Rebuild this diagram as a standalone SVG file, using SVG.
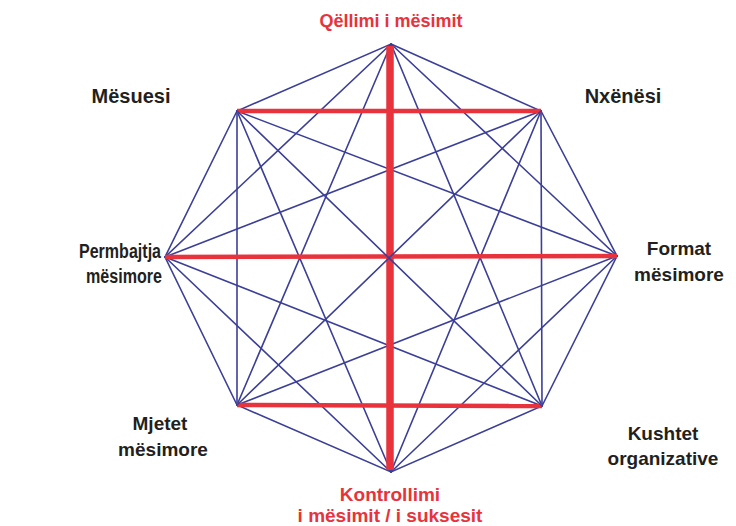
<svg xmlns="http://www.w3.org/2000/svg" width="736" height="526" viewBox="0 0 736 526">
<style>
.b{stroke:#3b3f98;stroke-width:1.6;fill:none;stroke-linecap:round}
.r{stroke:#e8333c;fill:none}
.lbl{font-family:"Liberation Sans",Arial,sans-serif;font-weight:bold;font-size:19px;fill:#231f20;text-anchor:middle}
.red{fill:#e8333c}
</style>
<rect width="736" height="526" fill="#fff"/>
<g id="connectors">
<g class="b">
<polygon points="391,44 541,111 617,256 542,406 391,472 237,405 165,257 237,111"/>
<line x1="391" y1="44" x2="617" y2="256"/>
<line x1="391" y1="44" x2="542" y2="406"/>
<line x1="391" y1="44" x2="237" y2="405"/>
<line x1="391" y1="44" x2="165" y2="257"/>
<line x1="541" y1="111" x2="542" y2="406"/>
<line x1="541" y1="111" x2="391" y2="472"/>
<line x1="541" y1="111" x2="165" y2="257"/>
<line x1="617" y1="256" x2="391" y2="472"/>
<line x1="617" y1="256" x2="237" y2="405"/>
<line x1="617" y1="256" x2="237" y2="111"/>
<line x1="542" y1="406" x2="165" y2="257"/>
<line x1="391" y1="472" x2="165" y2="257"/>
<line x1="391" y1="472" x2="237" y2="111"/>
<line x1="237" y1="405" x2="237" y2="111"/>
</g>
<line class="r" x1="237" y1="111" x2="541" y2="111" stroke-width="4.5"/>
<line class="r" x1="165" y1="257" x2="617" y2="256" stroke-width="4.5"/>
<line class="r" x1="237" y1="405" x2="542" y2="406" stroke-width="4.5"/>
<line class="r" x1="390" y1="46" x2="390" y2="470" stroke-width="7.5"/>
<line class="b" x1="237" y1="111" x2="542" y2="406"/>
<line class="b" x1="541" y1="111" x2="237" y2="405"/>
</g>
<g id="n-qellimi"><text class="lbl red" x="391" y="27" style="font-size:18px">Qëllimi i mësimit</text></g>
<g id="n-nxenesi"><text class="lbl" x="623" y="103" style="font-size:20px">Nxënësi</text></g>
<g id="n-format"><text class="lbl" x="679" y="255">Format</text><text class="lbl" x="679" y="281">mësimore</text></g>
<g id="n-kushtet"><text class="lbl" x="663" y="440">Kushtet</text><text class="lbl" x="663" y="465">organizative</text></g>
<g id="n-kontrollimi"><text class="lbl red" x="390" y="501">Kontrollimi</text><text class="lbl red" x="390" y="522">i mësimit / i suksesit</text></g>
<g id="n-mjetet"><text class="lbl" x="160" y="430">Mjetet</text><text class="lbl" x="163" y="456">mësimore</text></g>
<g id="n-permbajtja"><text class="lbl" x="120" y="258" style="font-size:20px" textLength="82" lengthAdjust="spacingAndGlyphs">Permbajtja</text><text class="lbl" x="124" y="283" style="font-size:20px" textLength="76" lengthAdjust="spacingAndGlyphs">mësimore</text></g>
<g id="n-mesuesi"><text class="lbl" x="131" y="103" style="font-size:20px">Mësuesi</text></g>
</svg>
